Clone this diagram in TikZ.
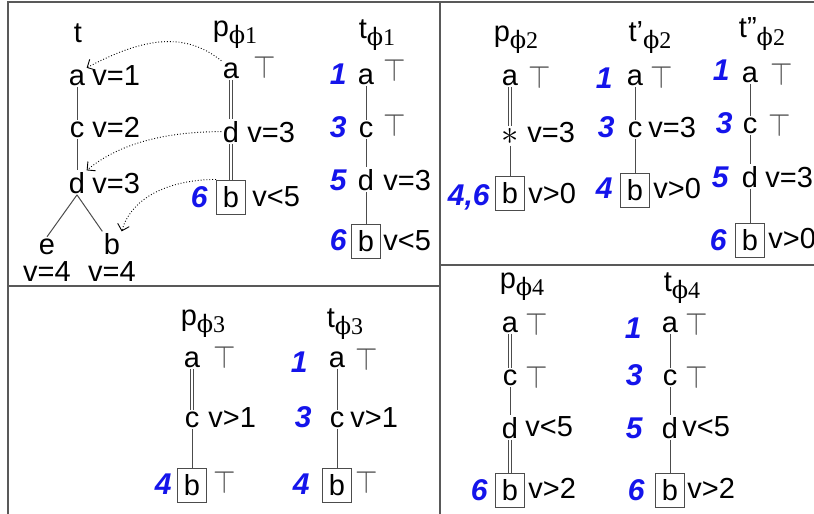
\documentclass[tikz,border=0pt]{standalone}
\usepackage{fontspec}
\setmainfont{Liberation Sans}
\newfontfamily\subfont{Liberation Serif}
\newfontfamily\phifont{DejaVu Serif}
\usetikzlibrary{arrows.meta}
\definecolor{numblue}{RGB}{20,20,235}
\newcommand\phisub[1]{\raisebox{-3.5pt}{\fontsize{12}{13}\selectfont{\phifont ϕ}\subfont#1}}
\newcommand\truesym{\scalebox{1}[1.12]{$\top$}}

\begin{document}
\begin{tikzpicture}[x=0.5pt, y=-0.5pt,
	every node/.style={font=\fontsize{14.5}{16}\selectfont},
	lbl/.style={anchor=base, inner sep=0.6pt},
	attr/.style={anchor=base west, inner sep=0pt},
	num/.style={anchor=base east, inner sep=0pt, text=numblue, font=\fontsize{15}{17}\selectfont\bfseries\itshape},
	tp/.style={anchor=base west, inner sep=0pt, text=gray!60!black},
	bx/.style={draw=gray!60!black, line width=0.5pt, minimum width=14.5pt, minimum height=17pt, inner sep=0pt},
	hdr/.style={anchor=base, inner sep=0pt},
	ln/.style={draw=gray!60!black, line width=0.5pt},
	dbl/.style={draw=gray!60!black, double, double distance=1.2pt, line width=0.45pt},
	ref/.style={densely dotted, line width=0.45pt, -{Straight Barb[length=3pt,width=6pt]}},
	frame/.style={draw=gray!70!black, line width=0.8pt}]
	\useasboundingbox (0,0) rectangle (814,514);
	\draw[frame] (8,514) -- (8,2) -- (814,2);
	\draw[frame] (440,2) -- (440,514);
	\draw[frame] (8,286) -- (440,286);
	\draw[frame] (440,265) -- (814,265);
	
	\node[hdr] (hT) at (78,42) {t};
	\node[lbl] (ta) at (77,85) {a};
	\node[attr] (taV) at (92,85) {v=1};
	\node[lbl] (tc) at (77,137) {c};
	\node[attr] (tcV) at (92,137) {v=2};
	\node[lbl] (td) at (77,193) {d};
	\node[attr] (tdV) at (92,193) {v=3};
	\node[lbl] (te) at (47,254) {e};
	\node[lbl] (tb) at (112,254) {b};
	\node[hdr] (teV) at (47,281) {v=4};
	\node[hdr] (tbV) at (112,281) {v=4};
	\draw[ln] (ta) -- (tc) -- (td);
	\draw[ln] (td.south) -- (te.north);
	\draw[ln] (td.south) -- (tb.north west);
	
	\node[hdr] (hP1) at (235,36) {p\phisub{1}};
	\node[lbl] (p1a) at (231,78) {a};
	\node[tp] (p1aT) at (253,78) {\truesym};
	\node[lbl] (p1d) at (231,142) {d};
	\node[attr] (p1dV) at (247,142) {v=3};
	\node[bx] (p1b) at (231,197) {b};
	\node[num] (p1bN) at (208,207) {6};
	\node[attr] (p1bV) at (252,206) {v<5};
	\draw[dbl] (p1a) -- (p1d) -- (p1b);
	
	\draw[ref] (p1a.north west) .. controls +(-35,-28) and +(60,-32) .. (ta.north east);
	\draw[ref] (p1d.west) .. controls +(-60,0) and +(30,-25) .. (td.north east);
	\draw[ref] (p1b.north west) .. controls +(-45,0) and +(10,-35) .. (tb.north east);
	
	\node[hdr] (hT1) at (377,39) {t\phisub{1}};
	\node[num] (t1aN) at (347,84) {1};
	\node[lbl] (t1a) at (366,84) {a};
	\node[tp] (t1aT) at (383,81) {\truesym};
	\node[num] (t1cN) at (347,137) {3};
	\node[lbl] (t1c) at (366,137) {c};
	\node[tp] (t1cT) at (383,136) {\truesym};
	\node[num] (t1dN) at (347,190) {5};
	\node[lbl] (t1d) at (366,190) {d};
	\node[attr] (t1dV) at (383,190) {v=3};
	\node[bx] (t1b) at (366,241) {b};
	\node[num] (t1bN) at (347,250) {6};
	\node[attr] (t1bV) at (383,250) {v<5};
	\draw[ln] (t1a) -- (t1c) -- (t1d) -- (t1b);
	
	\node[hdr] (hP2) at (516,41) {p\phisub{2}};
	\node[lbl] (p2a) at (510,85) {a};
	\node[tp] (p2aT) at (528,88) {\truesym};
	\node[lbl, font=\fontsize{18}{18}\selectfont] (p2s) at (510,144) {$\ast$};
	\node[attr] (p2sV) at (527,142) {v=3};
	\node[bx] (p2b) at (510,193) {b};
	\node[num] (p2bN) at (490,205) {4,6};
	\node[attr] (p2bV) at (528,203) {v>0};
	\draw[dbl] (p2a) -- (p2s);
	\draw[ln] (p2s) -- (p2b);
	
	\node[hdr] (hU2) at (650,41) {t'\phisub{2}};
	\node[num] (u2aN) at (613,88) {1};
	\node[lbl] (u2a) at (635,85) {a};
	\node[tp] (u2aT) at (650,88) {\truesym};
	\node[num] (u2cN) at (615,137) {3};
	\node[lbl] (u2c) at (635,137) {c};
	\node[attr] (u2cV) at (648,137) {v=3};
	\node[bx] (u2b) at (635,190) {b};
	\node[num] (u2bN) at (613,198) {4};
	\node[attr] (u2bV) at (653,198) {v>0};
	\draw[ln] (u2a) -- (u2c) -- (u2b);
	
	\node[hdr] (hW2) at (762,38) {t''\phisub{2}};
	\node[num] (w2aN) at (730,80) {1};
	\node[lbl] (w2a) at (750,82) {a};
	\node[tp] (w2aT) at (770,85) {\truesym};
	\node[num] (w2cN) at (733,133) {3};
	\node[lbl] (w2c) at (750,133) {c};
	\node[tp] (w2cT) at (768,136) {\truesym};
	\node[num] (w2dN) at (729,187) {5};
	\node[lbl] (w2d) at (750,187) {d};
	\node[attr] (w2dV) at (765,187) {v=3};
	\node[bx] (w2b) at (750,240) {b};
	\node[num] (w2bN) at (727,250) {6};
	\node[attr] (w2bV) at (768,248) {v>0};
	\draw[ln] (w2a) -- (w2c) -- (w2d) -- (w2b);
	
	\node[hdr] (hP3) at (203,325) {p\phisub{3}};
	\node[lbl] (p3a) at (192,367) {a};
	\node[tp] (p3aT) at (213,368) {\truesym};
	\node[lbl] (p3c) at (192,427) {c};
	\node[attr] (p3cV) at (208,427) {v>1};
	\node[bx] (p3b) at (192,485) {b};
	\node[num] (p3bN) at (172,494) {4};
	\node[tp] (p3bT) at (213,493) {\truesym};
	\draw[dbl] (p3a) -- (p3c);
	\draw[ln] (p3c) -- (p3b);
	
	\node[hdr] (hT3) at (345,327) {t\phisub{3}};
	\node[num] (t3aN) at (308,372) {1};
	\node[lbl] (t3a) at (337,367) {a};
	\node[tp] (t3aT) at (355,370) {\truesym};
	\node[num] (t3cN) at (312,427) {3};
	\node[lbl] (t3c) at (337,427) {c};
	\node[attr] (t3cV) at (350,427) {v>1};
	\node[bx] (t3b) at (337,485) {b};
	\node[num] (t3bN) at (310,494) {4};
	\node[tp] (t3bT) at (355,493) {\truesym};
	\draw[ln] (t3a) -- (t3c) -- (t3b);
	
	\node[hdr] (hP4) at (522,288) {p\phisub{4}};
	\node[lbl] (p4a) at (510,332) {a};
	\node[tp] (p4aT) at (525,335) {\truesym};
	\node[lbl] (p4c) at (510,385) {c};
	\node[tp] (p4cT) at (525,388) {\truesym};
	\node[lbl] (p4d) at (510,438) {d};
	\node[attr] (p4dV) at (525,436) {v<5};
	\node[bx] (p4b) at (510,490) {b};
	\node[num] (p4bN) at (488,500) {6};
	\node[attr] (p4bV) at (528,498) {v>2};
	\draw[dbl] (p4a) -- (p4c);
	\draw[ln] (p4c) -- (p4d);
	\draw[dbl] (p4d) -- (p4b);
	
	\node[hdr] (hT4) at (682,291) {t\phisub{4}};
	\node[num] (t4aN) at (642,338) {1};
	\node[lbl] (t4a) at (670,332) {a};
	\node[tp] (t4aT) at (685,335) {\truesym};
	\node[num] (t4cN) at (643,385) {3};
	\node[lbl] (t4c) at (670,385) {c};
	\node[tp] (t4cT) at (685,388) {\truesym};
	\node[num] (t4dN) at (643,438) {5};
	\node[lbl] (t4d) at (670,438) {d};
	\node[attr] (t4dV) at (682,436) {v<5};
	\node[bx] (t4b) at (670,490) {b};
	\node[num] (t4bN) at (645,500) {6};
	\node[attr] (t4bV) at (687,498) {v>2};
	\draw[ln] (t4a) -- (t4c) -- (t4d) -- (t4b);
	
\end{tikzpicture}
\end{document}
